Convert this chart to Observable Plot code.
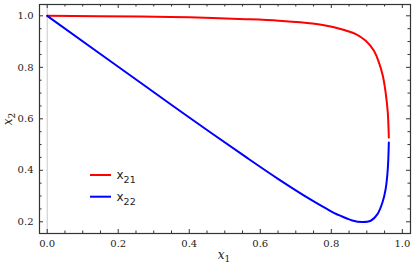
<!DOCTYPE html>
<html><head><meta charset="utf-8">
<script src="https://cdn.jsdelivr.net/npm/d3@7"></script>
<script src="https://cdn.jsdelivr.net/npm/@observablehq/plot@0.6"></script>
<style>
body{margin:0;background:#fff}
#wrap{position:relative;width:415px;height:272px}
#overlay{position:absolute;left:0;top:0;pointer-events:none}
</style>
</head><body><div id="wrap"></div>
<script>
// series x21 (red)
const x21X = [0, 0.263, 0.40, 0.559, 0.652, 0.747, 0.821, 0.869, 0.897, 0.920, 0.934, 0.945, 0.953, 0.959, 0.962];
const x21Y = [1.0, 0.997, 0.994, 0.987, 0.981, 0.970, 0.951, 0.929, 0.903, 0.864, 0.819, 0.767, 0.702, 0.625, 0.527];
// series x22 (blue)
const x22X = [0, 0.263, 0.40, 0.559, 0.652, 0.747, 0.790, 0.821, 0.859, 0.887, 0.911, 0.930, 0.944, 0.953, 0.959, 0.962];
const x22Y = [1.0, 0.740, 0.605, 0.452, 0.365, 0.282, 0.248, 0.226, 0.205, 0.199, 0.204, 0.230, 0.275, 0.327, 0.404, 0.508];

const seriesNames = ["x21", "x22"];
const seriesColors = ["#ff0000", "#0000ff"];

const majorX = [0, 0.2, 0.4, 0.6, 0.8, 1.0];
const minorX = [0.05, 0.1, 0.15, 0.25, 0.3, 0.35, 0.45, 0.5, 0.55, 0.65, 0.7, 0.75, 0.85, 0.9, 0.95];
const majorY = [0.2, 0.4, 0.6, 0.8, 1.0];
const minorY = [0.25, 0.3, 0.35, 0.45, 0.5, 0.55, 0.65, 0.7, 0.75, 0.85, 0.9, 0.95];
const axisTitles = [["x", "1"], ["x", "2"]];

const xDomain = [-0.0217, 1.023];
const yDomain = [0.1545, 1.044];

const W = 415, H = 272, mL = 39, mR = 5, mT = 4, mB = 39;
const iW = W - mL - mR, iH = H - mT - mB;
const frameColor = "#333";

const red = x21X.map((x, i) => ({x, y: x21Y[i]}));
const blue = x22X.map((x, i) => ({x, y: x22Y[i]}));

const plot = Plot.plot({
  width: W, height: H,
  marginLeft: mL, marginRight: mR, marginTop: mT, marginBottom: mB,
  x: {domain: xDomain},
  y: {domain: yDomain},
  style: {fontFamily: "DejaVu Serif", fontSize: "10px", color: "#222", background: "#fff"},
  marks: [
    Plot.ruleX([0], {stroke: "#c8c8c8", strokeWidth: 1}),
    Plot.line(red, {x: "x", y: "y", stroke: seriesColors[0], strokeWidth: 2, curve: "catmull-rom"}),
    Plot.line(blue, {x: "x", y: "y", stroke: seriesColors[1], strokeWidth: 2, curve: "catmull-rom"}),
    // ticks (inside, all four sides)
    Plot.ruleX(majorX, {stroke: frameColor, insetTop: iH - 4}),
    Plot.ruleX(majorX, {stroke: frameColor, insetBottom: iH - 4}),
    Plot.ruleX(minorX, {stroke: frameColor, insetTop: iH - 2.5}),
    Plot.ruleX(minorX, {stroke: frameColor, insetBottom: iH - 2.5}),
    Plot.ruleY(majorY, {stroke: frameColor, insetRight: iW - 4}),
    Plot.ruleY(majorY, {stroke: frameColor, insetLeft: iW - 4}),
    Plot.ruleY(minorY, {stroke: frameColor, insetRight: iW - 2.5}),
    Plot.ruleY(minorY, {stroke: frameColor, insetLeft: iW - 2.5}),
    Plot.axisX(majorX, {tickSize: 0, tickPadding: 6, tickFormat: d3.format(".1f"), label: null}),
    Plot.axisY(majorY, {tickSize: 0, tickPadding: 6, tickFormat: d3.format(".1f"), label: null}),
    Plot.frame({stroke: frameColor, strokeWidth: 1.2})
  ]
});
const wrap = document.getElementById("wrap");
wrap.appendChild(plot);

// overlay: axis titles and legend
const ns = "http://www.w3.org/2000/svg";
const ov = document.createElementNS(ns, "svg");
ov.setAttribute("id", "overlay");
ov.setAttribute("width", W); ov.setAttribute("height", H);

function subText(parent, x, y, main, sub, opts) {
  const t = document.createElementNS(ns, "text");
  t.setAttribute("x", x); t.setAttribute("y", y);
  t.setAttribute("font-family", opts.family);
  t.setAttribute("font-size", opts.size);
  t.setAttribute("fill", "#222");
  if (opts.anchor) t.setAttribute("text-anchor", opts.anchor);
  if (opts.transform) t.setAttribute("transform", opts.transform);
  const a = document.createElementNS(ns, "tspan");
  a.textContent = main;
  if (opts.italic) a.setAttribute("font-style", "italic");
  const b = document.createElementNS(ns, "tspan");
  b.textContent = sub;
  b.setAttribute("font-size", opts.subSize);
  b.setAttribute("dy", opts.subDy);
  t.appendChild(a); t.appendChild(b);
  parent.appendChild(t);
}

subText(ov, 224, 259, axisTitles[0][0], axisTitles[0][1], {family: "DejaVu Serif", size: 12, subSize: 9, subDy: 3, italic: true, anchor: "middle"});
subText(ov, 0, 0, axisTitles[1][0], axisTitles[1][1], {family: "DejaVu Serif", size: 12, subSize: 9, subDy: 3, italic: true, anchor: "middle", transform: "translate(12,119) rotate(-90)"});

seriesNames.forEach((name, i) => {
  const y = 175 + i * 21.7;
  const ln = document.createElementNS(ns, "line");
  ln.setAttribute("x1", 90); ln.setAttribute("x2", 111);
  ln.setAttribute("y1", y); ln.setAttribute("y2", y);
  ln.setAttribute("stroke", seriesColors[i]); ln.setAttribute("stroke-width", 2);
  ov.appendChild(ln);
  subText(ov, 116.5, y + 4, name[0], name.slice(1), {family: "DejaVu Sans", size: 12, subSize: 9.5, subDy: 4});
});
wrap.appendChild(ov);
</script>
</body></html>
